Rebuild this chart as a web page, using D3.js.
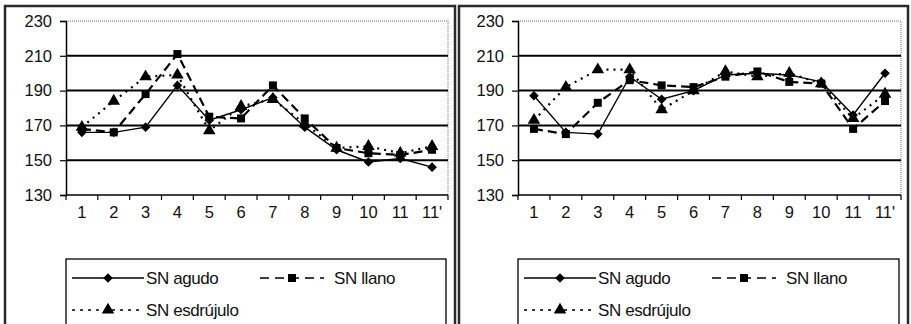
<!DOCTYPE html>
<html>
<head>
<meta charset="utf-8">
<script src="https://cdn.jsdelivr.net/npm/d3@7"></script>
<style>
  body { margin: 0; background: #fff; }
  svg { display: block; font-family: "Liberation Sans", Arial, sans-serif; }
  text { fill: #111; }
</style>
</head>
<body>
<svg id="chart" width="911" height="324"></svg>
<script>
// Categories (syllable positions) and y tick values
var categories = ["1", "2", "3", "4", "5", "6", "7", "8", "9", "10", "11", "11'"],
    yTicks = [130, 150, 170, 190, 210, 230];

// Left panel series
var leftAgudo     = [166, 166, 169, 193, 173, 179, 186, 169, 156, 149, 151, 146],
    leftLlano     = [168, 166, 188, 211, 175, 174, 193, 174, 157, 154, 153, 156],
    leftEsdrujulo = [169, 184, 198, 199, 167, 181, 185, 171, 157, 158, 154, 158];

// Right panel series
var rightAgudo     = [187, 166, 165, 198, 185, 190, 199, 200, 199, 195, 176, 200],
    rightLlano     = [168, 165, 183, 196, 193, 192, 198, 201, 195, 194, 168, 184],
    rightEsdrujulo = [173, 192, 202, 202, 179, 190, 201, 198, 200, 194, 174, 188];

var legendNames = ["SN agudo", "SN llano", "SN esdrújulo"];

var svg = d3.select("#chart");

// series styles: solid / dashed / dotted
var styles = [
    { dash: null,  width: 1.4, marker: d3.symbolSquare,   size: 46, rot: 45 },
    { dash: "9,5", width: 2.2, marker: d3.symbolSquare,   size: 64, rot: 0 },
    { dash: "2,5", width: 2.2, marker: d3.symbolTriangle, size: 68, rot: 0 }
];

function drawPanel(x0, x1, px0, px1, series) {
    var frame = svg.append("g");
    frame.append("rect")
        .attr("x", x0).attr("y", 6)
        .attr("width", x1 - x0).attr("height", 330)
        .attr("fill", "none").attr("stroke", "#2a2a2a").attr("stroke-width", 2.5);

    var x = d3.scaleBand().domain(categories).range([px0, px1]);
    var y = d3.scaleLinear().domain([130, 230]).range([195, 21]);

    var g = svg.append("g");

    // plot area border (dotted top & right)
    g.append("path")
        .attr("d", "M" + px0 + "," + y(230) + "H" + px1 + "V" + y(130))
        .attr("fill", "none").attr("stroke", "#777").attr("stroke-width", 1)
        .attr("stroke-dasharray", "1,1");

    // gridlines
    g.selectAll(".grid").data(yTicks.filter(function (d) { return d > 130 && d < 230; }))
        .enter().append("line")
        .attr("x1", px0).attr("x2", px1)
        .attr("y1", function (d) { return y(d); })
        .attr("y2", function (d) { return y(d); })
        .attr("stroke", "#000").attr("stroke-width", 2);

    // y axis
    var yAxis = g.append("g").attr("transform", "translate(" + px0 + ",0)")
        .call(d3.axisLeft(y).tickValues(yTicks).tickSize(6).tickPadding(8));
    yAxis.select(".domain").attr("stroke", "#000").attr("stroke-width", 1.5);
    yAxis.selectAll(".tick line").attr("stroke", "#000").attr("stroke-width", 1.2);
    yAxis.selectAll("text").attr("font-size", 16.5).attr("fill", "#111")
        .attr("font-family", "Liberation Sans, Arial, sans-serif");

    // x axis: ticks at category boundaries
    var xg = g.append("g").attr("transform", "translate(0," + y(130) + ")");
    xg.append("line").attr("x1", px0).attr("x2", px1)
        .attr("stroke", "#000").attr("stroke-width", 1.5);
    var bounds = categories.map(function (c) { return x(c); }).concat([px1]);
    xg.selectAll(".xt").data(bounds).enter().append("line")
        .attr("x1", function (d) { return d; }).attr("x2", function (d) { return d; })
        .attr("y1", 0).attr("y2", 5)
        .attr("stroke", "#000").attr("stroke-width", 1.2);
    xg.selectAll(".xl").data(categories).enter().append("text")
        .attr("x", function (d) { return x(d) + x.bandwidth() / 2; })
        .attr("y", 23)
        .attr("text-anchor", "middle")
        .attr("font-size", 16.5)
        .text(function (d) { return d; });

    // series lines and markers
    series.forEach(function (vals, si) {
        var st = styles[si];
        var line = d3.line()
            .x(function (d, i) { return x(categories[i]) + x.bandwidth() / 2; })
            .y(function (d) { return y(d); });
        g.append("path").datum(vals)
            .attr("d", line)
            .attr("fill", "none").attr("stroke", "#000")
            .attr("stroke-width", st.width)
            .attr("stroke-dasharray", st.dash);
        g.selectAll(".m" + si).data(vals).enter().append("path")
            .attr("transform", function (d, i) {
                return "translate(" + (x(categories[i]) + x.bandwidth() / 2) + "," + y(d) + ") rotate(" + st.rot + ")";
            })
            .attr("d", d3.symbol().type(st.marker).size(st.size))
            .attr("fill", "#000");
    });

    // legend
    var lg = svg.append("g");
    lg.append("rect")
        .attr("x", px0).attr("y", 259)
        .attr("width", px1 - px0 - 2).attr("height", 80)
        .attr("fill", "#fff").attr("stroke", "#000").attr("stroke-width", 1.3);
    var entries = [
        { sx: px0 + 6,   len: 72, gap: 2,  ty: 278, dash: null },
        { sx: px0 + 194, len: 64, gap: 10, ty: 278, dash: "9,6" },
        { sx: px0 + 6,   len: 72, gap: 2,  ty: 310, dash: "3,5" }
    ];
    entries.forEach(function (e, i) {
        var st = styles[i];
        lg.append("line")
            .attr("x1", e.sx).attr("x2", e.sx + e.len)
            .attr("y1", e.ty).attr("y2", e.ty)
            .attr("stroke", "#000").attr("stroke-width", i === 0 ? 1.3 : 1.6)
            .attr("stroke-dasharray", e.dash);
        lg.append("path")
            .attr("transform", "translate(" + (e.sx + e.len / 2) + "," + e.ty + ") rotate(" + st.rot + ")")
            .attr("d", d3.symbol().type(st.marker).size(st.size))
            .attr("fill", "#000");
        lg.append("text")
            .attr("x", e.sx + e.len + e.gap).attr("y", e.ty)
            .attr("dy", "0.35em")
            .attr("font-size", 17)
            .attr("letter-spacing", "-0.4")
            .text(legendNames[i]);
    });
}

drawPanel(5, 455, 66, 448, [leftAgudo, leftLlano, leftEsdrujulo]);
drawPanel(459, 908, 518, 901, [rightAgudo, rightLlano, rightEsdrujulo]);
</script>
</body>
</html>
